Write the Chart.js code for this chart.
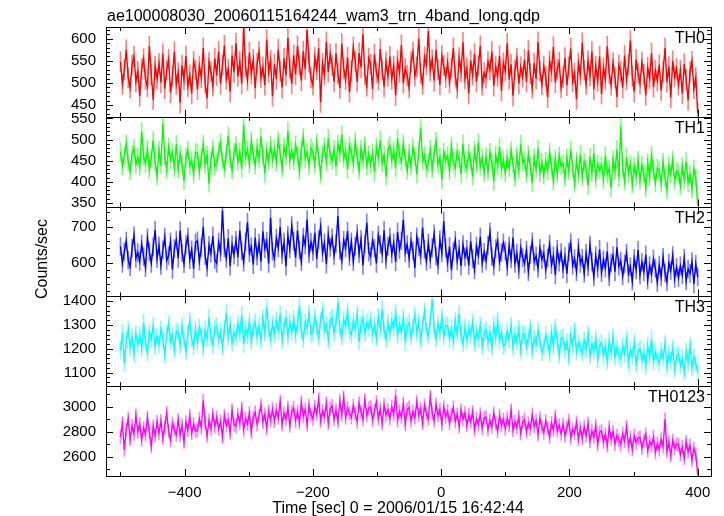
<!DOCTYPE html>
<html><head><meta charset="utf-8">
<script src="https://cdn.jsdelivr.net/npm/chart.js@4"></script>
<style>html,body{margin:0;padding:0;background:#fff}canvas{display:block}</style>
</head><body>
<canvas id="c" width="724" height="516"></canvas>
<script>
// ---- data ----
const plotTitle = "ae100008030_20060115164244_wam3_trn_4band_long.qdp";
const xTitle = "Time [sec] 0 = 2006/01/15 16:42:44";
const yTitle = "Counts/sec";
const bandNames = ["TH0", "TH1", "TH2", "TH3", "TH0123"];
const tStart = -500, tStep = 3;   // time bins (sec)
const bandErr = [23, 21, 25, 35, 53]; // typical 1-sigma error bar per band (counts/sec)

const th0 = [
548,497,530,575,512,489,541,560,503,526, 470,532,555,508,491,583,519,462,538,509,
544,501,566,487,529,553,478,515,571,496, 523,455,540,507,561,492,518,476,549,530,
485,538,512,579,500,465,547,526,493,556, 517,572,498,540,585,509,531,480,562,524,
590,515,548,498,627,537,506,569,521,553, 488,545,571,512,536,495,598,524,551,470,
542,509,576,527,489,556,517,602,533,498, 563,519,584,541,505,572,531,620,547,512,
495,558,530,579,456,544,518,593,525,566, 540,503,567,521,488,589,532,507,558,479,
527,581,549,502,568,535,611,519,493,556, 542,486,565,523,507,577,530,491,548,515,
560,509,538,472,551,524,586,499,533,517, 489,548,570,516,536,601,522,497,559,541,
618,528,553,505,575,531,496,562,540,512, 546,501,534,579,515,488,557,526,592,510,
533,476,551,518,566,502,539,584,495,523, 511,548,530,571,493,537,515,561,482,545,
527,590,508,542,471,529,556,498,536,513, 553,502,574,521,488,545,509,593,527,496,
538,515,467,550,526,582,501,531,547,489, 512,557,494,536,578,503,522,463,545,518,
591,529,497,550,516,571,485,538,504,560, 475,534,509,583,521,495,546,513,468,540,
526,489,562,507,541,596,515,480,553,522, 498,547,519,472,535,510,568,491,528,505,
541,483,526,579,502,537,467,550,514,532, 495,529,476,543,508,461,526,549,487,512,
432];
const th1 = [
471,438,462,490,447,425,466,480,441,458, 436,519,460,443,477,429,455,498,447,414,
475,440,537,461,428,482,452,470,433,489, 430,466,441,402,459,475,437,451,418,470,
468,425,457,489,440,463,396,452,478,436, 445,472,493,450,431,466,509,454,427,470,
487,448,470,431,535,459,476,442,498,465, 439,481,455,507,462,420,473,449,488,453,
478,446,499,467,432,483,460,520,451,474, 449,488,463,425,476,505,455,470,438,480,
472,441,493,458,418,466,484,447,503,461, 450,477,436,489,468,512,455,473,429,486,
471,443,496,460,427,478,452,487,438,465, 440,469,423,482,457,498,445,463,412,476,
486,451,474,433,503,462,447,490,456,427, 468,437,481,459,418,472,527,450,463,431,
445,477,430,466,496,441,458,404,470,451, 462,426,484,447,433,471,455,418,490,443,
431,468,449,412,475,440,493,436,457,421, 459,424,470,447,401,463,438,482,429,451,
420,456,433,474,441,409,462,428,489,445, 452,418,466,437,398,457,430,478,421,446,
415,449,426,470,438,401,455,419,462,437, 443,409,457,425,476,432,396,450,418,465,
412,447,430,391,459,421,468,408,441,427, 440,405,462,418,431,385,452,425,476,410,
531,433,401,458,419,442,394,437,412,451, 403,439,420,385,446,411,463,425,397,432,
428,396,447,410,381,438,419,452,402,425, 421,390,436,405,448,398,417,383,431,409,
345];
const th2 = [
645,598,631,660,607,589,640,675,612,628, 603,652,617,586,669,630,598,644,690,611,
647,592,635,671,606,620,658,581,639,663, 612,689,628,597,650,672,608,636,583,655,
661,604,642,700,619,587,648,626,674,608, 598,657,629,745,641,612,668,590,650,621,
662,615,689,633,601,658,712,627,645,594, 670,618,654,603,687,639,660,598,725,631,
612,668,641,699,623,657,590,676,638,703, 660,614,689,635,602,671,649,720,625,657,
631,683,610,664,700,628,655,596,677,642, 669,620,653,730,634,605,662,641,688,617,
658,603,646,681,625,664,592,652,711,630, 617,662,640,598,677,651,625,690,608,646,
671,624,655,602,686,637,661,719,628,650, 612,660,633,585,672,644,620,698,637,603,
655,609,641,680,618,593,664,627,715,640, 600,645,579,631,662,605,638,590,650,616,
637,592,659,611,580,646,620,672,598,629, 605,648,685,617,590,639,661,602,628,655,
632,588,647,610,670,598,626,581,641,614, 597,635,575,622,658,603,618,584,640,609,
626,580,613,651,594,619,566,637,601,628, 582,617,569,630,655,593,611,575,642,598,
613,570,626,588,649,602,560,619,584,637, 572,608,585,631,561,599,620,575,643,590,
604,563,596,627,570,589,548,612,580,635, 566,601,575,622,551,592,569,610,584,545,
593,560,615,571,547,599,578,620,556,587, 558,591,566,612,549,583,570,603,541,596,
560];
const th3 = [
1195,1268,1140,1236,1281,1207,1249,1178,1262,1220, 1256,1203,1310,1228,1185,1271,1240,1297,1210,1252,
1218,1282,1241,1176,1263,1305,1229,1258,1196,1274, 1270,1215,1293,1239,1188,1265,1320,1242,1209,1281,
1231,1290,1262,1204,1278,1245,1332,1251,1217,1287, 1295,1238,1274,1206,1283,1351,1249,1301,1226,1268,
1248,1305,1263,1342,1220,1286,1257,1315,1232,1290, 1312,1251,1294,1236,1330,1268,1373,1285,1242,1306,
1260,1318,1277,1345,1236,1299,1326,1252,1310,1271, 1325,1258,1306,1381,1274,1240,1312,1289,1350,1263,
1270,1334,1291,1248,1320,1362,1279,1305,1237,1318, 1331,1266,1308,1395,1283,1250,1322,1295,1357,1274,
1259,1316,1284,1343,1230,1301,1328,1267,1310,1288, 1322,1263,1299,1245,1336,1281,1366,1276,1240,1311,
1265,1318,1290,1351,1255,1304,1272,1333,1227,1296, 1309,1250,1291,1342,1266,1314,1238,1300,1358,1275,
1255,1323,1408,1280,1242,1306,1269,1335,1251,1297, 1298,1241,1285,1230,1319,1263,1346,1258,1222,1290,
1238,1287,1256,1311,1225,1274,1243,1300,1212,1268, 1280,1226,1265,1204,1298,1247,1318,1233,1270,1211,
1219,1273,1240,1300,1205,1258,1229,1284,1196,1262, 1262,1208,1249,1289,1190,1244,1221,1276,1232,1184,
1205,1259,1227,1180,1268,1214,1291,1236,1173,1246, 1248,1196,1230,1165,1257,1213,1277,1189,1224,1202,
1183,1236,1198,1262,1170,1219,1190,1243,1155,1211, 1226,1172,1209,1148,1233,1185,1252,1167,1204,1178,
1160,1214,1179,1238,1143,1196,1171,1225,1135,1190, 1201,1152,1183,1126,1212,1168,1241,1146,1187,1159,
1140,1192,1163,1223,1128,1176,1150,1203,1115,1170, 1179,1130,1161,1104,1188,1143,1212,1121,1166,1138,
1100];
const th0123 = [
2760,2870,2655,2820,2905,2740,2848,2785,2930,2802, 2862,2738,2830,2781,2915,2799,2685,2845,2770,2880,
2790,2885,2752,2840,2951,2808,2733,2867,2819,2776, 2896,2775,2852,2720,2878,2815,2930,2790,2861,2805,
2810,2902,2836,3050,2871,2768,2889,2825,2940,2845, 2915,2822,2883,2760,2930,2851,2896,2795,2972,2858,
2845,2938,2870,2990,2818,2905,2862,2950,2801,2918, 2955,2861,2928,3012,2879,2940,2830,2966,2893,2982,
2886,2975,2912,3040,2860,2948,2903,2995,2851,2960, 2992,2890,2960,2875,3035,2925,2978,2856,3010,2940,
2905,3000,2943,3062,2889,2970,2920,3030,2871,2985, 3008,2902,2975,2883,3045,2938,3075,2915,2990,2950,
2915,3010,2946,2880,3028,2962,2901,3055,2933,2990, 3000,2897,2968,3040,2910,2982,2868,3015,2937,2975,
2908,3001,2940,3090,2895,2965,2920,3025,2862,2980, 2995,2890,2962,2915,3038,2935,2985,2870,3012,2946,
2905,3080,2950,2890,3020,2932,2978,2861,2998,2920, 2966,2870,2938,2995,2885,2940,2843,2972,2901,2950,
2852,2935,2880,2960,2820,2905,2858,2940,2830,2912, 2918,2820,2890,2842,2950,2868,2805,2930,2855,2900,
2825,2908,2850,2972,2815,2880,2836,2920,2790,2875, 2898,2802,2870,2825,2935,2845,2890,2780,2910,2840,
2795,2888,2830,2760,2870,2815,2925,2808,2852,2785, 2860,2770,2835,2890,2755,2820,2790,2875,2740,2830,
2750,2840,2772,2865,2725,2805,2760,2850,2700,2795, 2808,2720,2780,2690,2835,2745,2800,2705,2770,2735,
2700,2785,2725,2840,2690,2755,2660,2770,2715,2750, 2755,2670,2730,2780,2650,2720,2690,2760,2635,2705,
2660,2740,2685,2900,2645,2715,2610,2730,2670,2700, 2700,2615,2680,2590,2720,2640,2690,2575,2665,2620,
2455];

const xTickStep = 200, xMinorStep = 100;
const yMajor = [50, 50, 100, 100, 200];
const yMinor = [10, 10, 20, 20, 100];
const yMin = [423, 341, 506, 1043, 2446];
const yMax = [627, 554, 756, 1420, 3166];
const xMin = -522.6, xMax = 420.7;

// ---- build ----
const series = [th0, th1, th2, th3, th0123];
const colors = ['#ff0000', '#00ff00', '#0000ff', '#00ffff', '#ff00ff'];
const errColors = ['rgba(255,0,0,0.5)', 'rgba(0,255,0,0.5)', 'rgba(0,0,255,0.5)', 'rgba(0,255,255,0.5)', 'rgba(255,0,255,0.5)'];
const times = th0.map((_, i) => tStart + i * tStep);
const FONT = 'Liberation Sans, Arial, Helvetica, sans-serif';

const datasets = [];
series.forEach((s, k) => {
  datasets.push({
    type: 'line',
    label: bandNames[k],
    data: s.map((v, i) => ({ x: times[i], y: v })),
    yAxisID: 'y' + k,
    borderColor: colors[k],
    borderWidth: 1.4,
    pointRadius: 0,
    tension: 0,
    fill: false,
    order: 0
  });
  datasets.push({
    type: 'bar',
    label: bandNames[k] + ' err',
    data: s.map((v, i) => ({ x: times[i], y: [v - bandErr[k], v + bandErr[k]] })),
    yAxisID: 'y' + k,
    backgroundColor: errColors[k],
    borderWidth: 0,
    barThickness: 1,
    grouped: false,
    order: 1
  });
});

const scales = {
  x: {
    type: 'linear', min: xMin, max: xMax, offset: false,
    grid: { display: false, drawTicks: false, offset: false }, border: { display: false },
    ticks: { stepSize: xTickStep, includeBounds: false, autoSkip: false, maxRotation: 0,
      padding: 8, color: '#000', font: { family: FONT, size: 15 },
      callback: v => String(v).replace('-', '\u2212') },
    afterFit: s => { s.height = 40; }
  }
};
// stacked axes are laid out bottom-up, so define the bottom panel first
for (let k = 4; k >= 0; k--) {
  scales['y' + k] = {
    type: 'linear', position: 'left', stack: 'panels', stackWeight: 1,
    min: yMin[k], max: yMax[k],
    grid: { display: false, drawTicks: false }, border: { display: false },
    ticks: { stepSize: yMajor[k], includeBounds: false, autoSkip: false,
      padding: 10, color: '#000', font: { family: FONT, size: 15 },
      callback: v => String(v) },
    afterFit: s => { s.width = 106; }
  };
}

const decor = {
  id: 'decor',
  afterDraw(chart) {
    const ctx = chart.ctx, xs = chart.scales.x;
    const L = chart.chartArea.left, R = chart.chartArea.right;
    ctx.save();
    ctx.strokeStyle = '#000';
    ctx.lineWidth = 1;
    const px = v => Math.round(v) + 0.5;
    for (let k = 0; k < 5; k++) {
      const ys = chart.scales['y' + k];
      const T = ys.top, B = ys.bottom;
      ctx.strokeRect(px(L), px(T), Math.round(R) - Math.round(L), Math.round(B) - Math.round(T));
      ctx.beginPath();
      for (let v = Math.ceil(yMin[k] / yMinor[k]) * yMinor[k]; v <= yMax[k]; v += yMinor[k]) {
        const y = px(ys.getPixelForValue(v));
        const len = (v % yMajor[k] === 0) ? 7 : 4;
        ctx.moveTo(L, y); ctx.lineTo(L + len, y);
        ctx.moveTo(R, y); ctx.lineTo(R - len, y);
      }
      for (let v = Math.ceil(xMin / xMinorStep) * xMinorStep; v <= xMax; v += xMinorStep) {
        const x = px(xs.getPixelForValue(v));
        const len = (v % xTickStep === 0) ? 7 : 4;
        ctx.moveTo(x, T); ctx.lineTo(x, T + len);
        ctx.moveTo(x, B); ctx.lineTo(x, B - len);
      }
      ctx.stroke();
      ctx.fillStyle = '#000';
      ctx.font = '16px ' + FONT;
      ctx.textAlign = 'right';
      ctx.textBaseline = 'alphabetic';
      ctx.fillText(bandNames[k], R - 6, T + 16);
    }
    ctx.font = '16px ' + FONT;
    ctx.textAlign = 'left';
    ctx.fillText(plotTitle, 107, 21);
    ctx.textAlign = 'center';
    ctx.fillText(xTitle, 398, 513);
    ctx.translate(47, 259);
    ctx.rotate(-Math.PI / 2);
    ctx.fillText(yTitle, 0, 0);
    ctx.restore();
  }
};

new Chart(document.getElementById('c'), {
  type: 'line',
  data: { datasets },
  options: {
    responsive: false, animation: false, devicePixelRatio: 1,
    layout: { padding: { left: 0, top: 27, right: 13, bottom: 0 } },
    plugins: { legend: { display: false }, tooltip: { enabled: false }, title: { display: false } },
    scales
  },
  plugins: [decor]
});
</script>
</body></html>
